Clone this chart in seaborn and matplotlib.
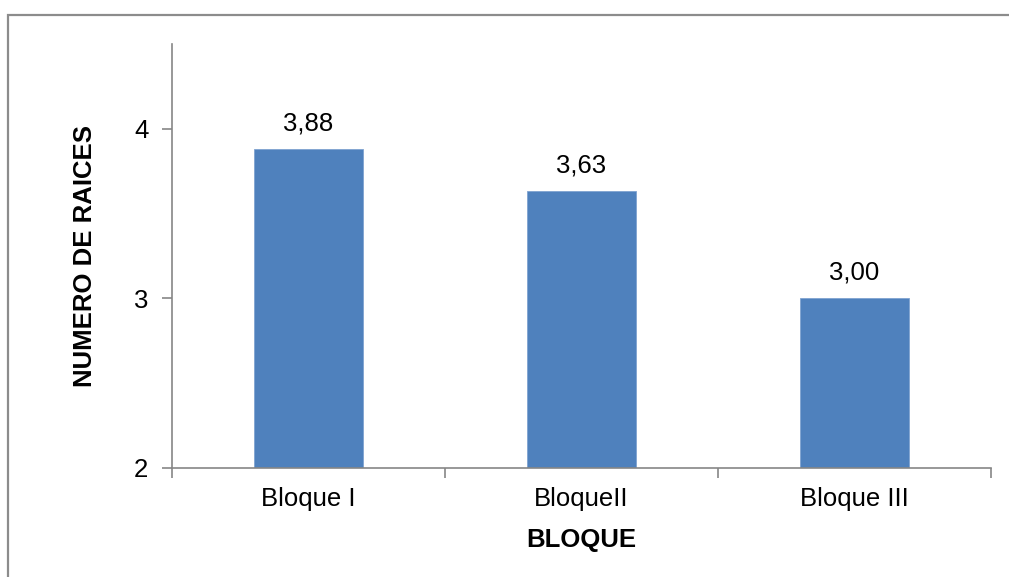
import matplotlib
matplotlib.use("Agg")
import matplotlib.pyplot as plt
from matplotlib.patches import Rectangle
import seaborn as sns
import pandas as pd

# Mean number of roots per block
bloques = ["Bloque I", "BloqueII", "Bloque III"]
raices = [3.88, 3.63, 3.00]
y_ticks = [2, 3, 4]

sns.set_theme(style="white")
plt.rcParams["font.family"] = ["Liberation Sans", "DejaVu Sans"]

FS = 18.5

df = pd.DataFrame({"bloque": bloques, "raices": raices})

fig = plt.figure(figsize=(10.09, 5.77), dpi=100)
ax = fig.add_axes([172 / 1009, 1 - 467.7 / 577, (991 - 172) / 1009, (467.7 - 44) / 577])

sns.barplot(data=df, x="bloque", y="raices", color="#4F81BD", width=0.4,
            saturation=1, edgecolor="#7FA3D0", linewidth=0.6, ax=ax)

ax.set_ylim(2, 4.5)
ax.set_xlim(-0.5, len(bloques) - 0.5)
ax.set_yticks(y_ticks)
ax.set_yticklabels([str(t) for t in y_ticks], fontsize=FS, color="black")

# category labels between boundary tick marks
ax.set_xticks([i - 0.5 for i in range(len(bloques) + 1)])
ax.set_xticklabels([])
ax.set_xticks(range(len(bloques)), minor=True)
ax.set_xticklabels(bloques, minor=True, fontsize=FS, color="black")
ax.tick_params(axis="x", which="major", direction="out", length=7, width=1.2,
               color="#868686", bottom=True)
ax.tick_params(axis="x", which="minor", length=0, pad=14)
ax.tick_params(axis="y", direction="out", length=7, width=1.2, color="#868686",
               left=True, pad=10)

for side in ("top", "right"):
    ax.spines[side].set_visible(False)
for side in ("left", "bottom"):
    ax.spines[side].set_color("#868686")
    ax.spines[side].set_linewidth(1.2)

for i, v in enumerate(raices):
    ax.annotate(f"{v:.2f}".replace(".", ","), (i, v), xytext=(0, 10),
                textcoords="offset points", ha="center", va="bottom",
                fontsize=FS, color="black")

ax.set_xlabel("BLOQUE", fontsize=FS, fontweight="bold", color="black", labelpad=12)
ax.set_ylabel("NUMERO DE RAICES", fontsize=FS, fontweight="bold", color="black",
              labelpad=27)

# chart frame
fig.patches.append(Rectangle((8 / 1009, -0.1), 1.2, 1.1 - 14.5 / 577,
                             transform=fig.transFigure, fill=False,
                             edgecolor="#8C8C8C", linewidth=1.6))

fig.savefig("out.png", dpi=100)
